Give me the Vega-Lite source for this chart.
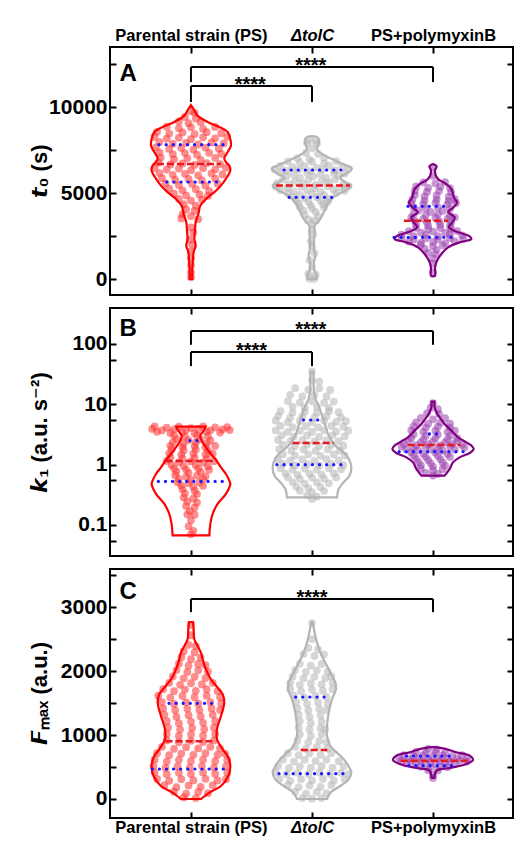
{
"$schema":"https://vega.github.io/schema/vega-lite/v6.json",
"padding":{"left":27,"top":26,"right":0,"bottom":0},
"spacing":9,
"config":{
 "view":{"stroke":"black","strokeWidth":2},
 "axis":{"domain":false,"grid":false,"tickColor":"black","tickWidth":2,"tickSize":-6,"labelFont":"Liberation Sans","labelFontWeight":"bold","labelFontSize":21,"labelColor":"black","labelPadding":9,"titleFont":"Liberation Sans","titleFontWeight":"bold","titleFontSize":22,"titleColor":"black"}
},
"datasets":{
"pA":[
{"g":1,"x":1.0,"y":9760},{"g":1,"x":1.03,"y":9660},{"g":1,"x":0.95,"y":9420},{"g":1,"x":1.04,"y":9330},
{"g":1,"x":0.9,"y":9160},{"g":1,"x":0.98,"y":9060},{"g":1,"x":1.08,"y":9120},
{"g":1,"x":0.8,"y":8860},{"g":1,"x":0.9,"y":8760},{"g":1,"x":1.0,"y":8820},{"g":1,"x":1.1,"y":8730},{"g":1,"x":1.2,"y":8840},
{"g":1,"x":0.72,"y":8560},{"g":1,"x":0.82,"y":8460},{"g":1,"x":0.93,"y":8520},{"g":1,"x":1.03,"y":8430},{"g":1,"x":1.13,"y":8540},{"g":1,"x":1.25,"y":8480},
{"g":1,"x":0.7,"y":8260},{"g":1,"x":0.8,"y":8160},{"g":1,"x":0.9,"y":8220},{"g":1,"x":1.0,"y":8130},{"g":1,"x":1.1,"y":8240},{"g":1,"x":1.2,"y":8180},{"g":1,"x":1.3,"y":8270},
{"g":1,"x":0.74,"y":7960},{"g":1,"x":0.85,"y":7860},{"g":1,"x":0.96,"y":7920},{"g":1,"x":1.06,"y":7830},{"g":1,"x":1.17,"y":7940},{"g":1,"x":1.27,"y":7880},
{"g":1,"x":0.71,"y":7660},{"g":1,"x":0.82,"y":7560},{"g":1,"x":0.92,"y":7620},{"g":1,"x":1.02,"y":7530},{"g":1,"x":1.12,"y":7640},{"g":1,"x":1.23,"y":7580},
{"g":1,"x":0.74,"y":7360},{"g":1,"x":0.85,"y":7260},{"g":1,"x":0.95,"y":7320},{"g":1,"x":1.05,"y":7230},{"g":1,"x":1.15,"y":7340},{"g":1,"x":1.25,"y":7280},
{"g":1,"x":0.75,"y":7060},{"g":1,"x":0.86,"y":6960},{"g":1,"x":0.97,"y":7020},{"g":1,"x":1.08,"y":6930},{"g":1,"x":1.2,"y":7040},
{"g":1,"x":0.73,"y":6760},{"g":1,"x":0.83,"y":6660},{"g":1,"x":0.93,"y":6720},{"g":1,"x":1.03,"y":6630},{"g":1,"x":1.13,"y":6740},{"g":1,"x":1.24,"y":6680},
{"g":1,"x":0.7,"y":6460},{"g":1,"x":0.8,"y":6360},{"g":1,"x":0.9,"y":6420},{"g":1,"x":1.0,"y":6330},{"g":1,"x":1.1,"y":6440},{"g":1,"x":1.2,"y":6380},{"g":1,"x":1.29,"y":6470},
{"g":1,"x":0.74,"y":6160},{"g":1,"x":0.85,"y":6060},{"g":1,"x":0.95,"y":6120},{"g":1,"x":1.06,"y":6030},{"g":1,"x":1.17,"y":6140},{"g":1,"x":1.26,"y":6080},
{"g":1,"x":0.76,"y":5860},{"g":1,"x":0.87,"y":5760},{"g":1,"x":0.98,"y":5820},{"g":1,"x":1.09,"y":5730},{"g":1,"x":1.2,"y":5840},
{"g":1,"x":0.79,"y":5560},{"g":1,"x":0.9,"y":5460},{"g":1,"x":1.01,"y":5520},{"g":1,"x":1.12,"y":5430},{"g":1,"x":1.22,"y":5540},
{"g":1,"x":0.82,"y":5260},{"g":1,"x":0.93,"y":5160},{"g":1,"x":1.04,"y":5220},{"g":1,"x":1.15,"y":5130},
{"g":1,"x":0.86,"y":4960},{"g":1,"x":0.96,"y":4860},{"g":1,"x":1.07,"y":4920},{"g":1,"x":1.14,"y":4830},
{"g":1,"x":0.9,"y":4660},{"g":1,"x":1.0,"y":4560},{"g":1,"x":1.09,"y":4620},
{"g":1,"x":0.94,"y":4360},{"g":1,"x":1.04,"y":4260},{"g":1,"x":0.96,"y":4060},{"g":1,"x":1.03,"y":3960},
{"g":1,"x":0.93,"y":3760},{"g":1,"x":1.0,"y":3660},{"g":1,"x":0.92,"y":3520},{"g":1,"x":1.06,"y":3480},
{"g":1,"x":1.0,"y":3000},{"g":1,"x":1.02,"y":2700},{"g":1,"x":0.99,"y":2300},{"g":1,"x":1.01,"y":2000},{"g":1,"x":1.0,"y":1600},{"g":1,"x":1.0,"y":1200},{"g":1,"x":1.0,"y":800},{"g":1,"x":1.0,"y":400},{"g":1,"x":1.0,"y":100},
{"g":2,"x":1.98,"y":8100},{"g":2,"x":2.03,"y":8060},{"g":2,"x":1.96,"y":7900},{"g":2,"x":2.04,"y":7860},{"g":2,"x":2.0,"y":7600},
{"g":2,"x":1.95,"y":7330},{"g":2,"x":2.05,"y":7270},{"g":2,"x":1.88,"y":7020},{"g":2,"x":1.98,"y":6960},{"g":2,"x":2.1,"y":7040},
{"g":2,"x":1.8,"y":6840},{"g":2,"x":1.9,"y":6760},{"g":2,"x":2.0,"y":6820},{"g":2,"x":2.1,"y":6730},{"g":2,"x":2.2,"y":6850},
{"g":2,"x":1.74,"y":6580},{"g":2,"x":1.84,"y":6500},{"g":2,"x":1.94,"y":6560},{"g":2,"x":2.04,"y":6480},{"g":2,"x":2.14,"y":6590},{"g":2,"x":2.25,"y":6530},
{"g":2,"x":1.69,"y":6380},{"g":2,"x":1.79,"y":6300},{"g":2,"x":1.89,"y":6360},{"g":2,"x":1.99,"y":6280},{"g":2,"x":2.09,"y":6390},{"g":2,"x":2.19,"y":6330},{"g":2,"x":2.3,"y":6400},
{"g":2,"x":1.74,"y":6180},{"g":2,"x":1.85,"y":6100},{"g":2,"x":1.96,"y":6160},{"g":2,"x":2.07,"y":6080},{"g":2,"x":2.18,"y":6190},{"g":2,"x":2.27,"y":6130},
{"g":2,"x":1.79,"y":5980},{"g":2,"x":1.9,"y":5900},{"g":2,"x":2.01,"y":5960},{"g":2,"x":2.12,"y":5880},{"g":2,"x":2.22,"y":5990},
{"g":2,"x":1.76,"y":5780},{"g":2,"x":1.86,"y":5700},{"g":2,"x":1.97,"y":5760},{"g":2,"x":2.08,"y":5680},{"g":2,"x":2.19,"y":5790},
{"g":2,"x":1.71,"y":5580},{"g":2,"x":1.81,"y":5500},{"g":2,"x":1.92,"y":5560},{"g":2,"x":2.03,"y":5480},{"g":2,"x":2.14,"y":5590},{"g":2,"x":2.26,"y":5530},
{"g":2,"x":1.7,"y":5380},{"g":2,"x":1.8,"y":5300},{"g":2,"x":1.91,"y":5360},{"g":2,"x":2.02,"y":5280},{"g":2,"x":2.13,"y":5390},{"g":2,"x":2.24,"y":5330},{"g":2,"x":2.3,"y":5400},
{"g":2,"x":1.74,"y":5180},{"g":2,"x":1.85,"y":5100},{"g":2,"x":1.96,"y":5160},{"g":2,"x":2.07,"y":5080},{"g":2,"x":2.18,"y":5190},{"g":2,"x":2.27,"y":5130},
{"g":2,"x":1.8,"y":4980},{"g":2,"x":1.9,"y":4900},{"g":2,"x":2.0,"y":4960},{"g":2,"x":2.1,"y":4880},{"g":2,"x":2.2,"y":4990},
{"g":2,"x":1.84,"y":4780},{"g":2,"x":1.94,"y":4700},{"g":2,"x":2.04,"y":4760},{"g":2,"x":2.14,"y":4680},
{"g":2,"x":1.87,"y":4580},{"g":2,"x":1.97,"y":4500},{"g":2,"x":2.07,"y":4560},{"g":2,"x":2.13,"y":4480},
{"g":2,"x":1.89,"y":4380},{"g":2,"x":1.99,"y":4300},{"g":2,"x":2.09,"y":4360},{"g":2,"x":1.9,"y":4180},{"g":2,"x":2.0,"y":4100},{"g":2,"x":2.1,"y":4160},
{"g":2,"x":1.93,"y":3980},{"g":2,"x":2.03,"y":3900},{"g":2,"x":1.94,"y":3720},{"g":2,"x":2.05,"y":3660},{"g":2,"x":1.97,"y":3470},{"g":2,"x":2.02,"y":3410},
{"g":2,"x":2.0,"y":3200},{"g":2,"x":2.0,"y":2900},{"g":2,"x":2.01,"y":2600},{"g":2,"x":1.99,"y":2200},{"g":2,"x":2.0,"y":1900},{"g":2,"x":2.02,"y":1500},{"g":2,"x":1.98,"y":1100},{"g":2,"x":2.0,"y":700},
{"g":2,"x":1.97,"y":300},{"g":2,"x":2.03,"y":260},{"g":2,"x":1.98,"y":20},{"g":2,"x":2.02,"y":10},
{"g":3,"x":3.0,"y":6500},{"g":3,"x":3.0,"y":6000},{"g":3,"x":2.92,"y":5620},{"g":3,"x":3.02,"y":5560},{"g":3,"x":3.1,"y":5640},
{"g":3,"x":2.86,"y":5380},{"g":3,"x":2.96,"y":5300},{"g":3,"x":3.06,"y":5360},{"g":3,"x":3.14,"y":5290},
{"g":3,"x":2.85,"y":5120},{"g":3,"x":2.95,"y":5060},{"g":3,"x":3.05,"y":5130},{"g":3,"x":3.15,"y":5050},
{"g":3,"x":2.85,"y":4880},{"g":3,"x":2.93,"y":4800},{"g":3,"x":3.03,"y":4860},{"g":3,"x":3.13,"y":4790},
{"g":3,"x":2.83,"y":4630},{"g":3,"x":2.93,"y":4560},{"g":3,"x":3.03,"y":4620},{"g":3,"x":3.13,"y":4550},{"g":3,"x":3.18,"y":4640},
{"g":3,"x":2.82,"y":4420},{"g":3,"x":2.92,"y":4360},{"g":3,"x":3.02,"y":4430},{"g":3,"x":3.12,"y":4350},{"g":3,"x":3.19,"y":4410},
{"g":3,"x":2.84,"y":4180},{"g":3,"x":2.94,"y":4100},{"g":3,"x":3.04,"y":4160},{"g":3,"x":3.14,"y":4090},
{"g":3,"x":2.88,"y":3980},{"g":3,"x":2.98,"y":3900},{"g":3,"x":3.08,"y":3960},
{"g":3,"x":2.84,"y":3780},{"g":3,"x":2.94,"y":3700},{"g":3,"x":3.04,"y":3760},{"g":3,"x":3.14,"y":3690},
{"g":3,"x":2.82,"y":3580},{"g":3,"x":2.92,"y":3500},{"g":3,"x":3.02,"y":3560},{"g":3,"x":3.12,"y":3490},{"g":3,"x":3.18,"y":3590},
{"g":3,"x":2.85,"y":3380},{"g":3,"x":2.95,"y":3300},{"g":3,"x":3.05,"y":3360},{"g":3,"x":3.15,"y":3290},
{"g":3,"x":2.86,"y":3180},{"g":3,"x":2.96,"y":3100},{"g":3,"x":3.06,"y":3160},{"g":3,"x":3.14,"y":3090},
{"g":3,"x":2.86,"y":2980},{"g":3,"x":2.96,"y":2900},{"g":3,"x":3.06,"y":2960},{"g":3,"x":3.15,"y":2890},
{"g":3,"x":2.8,"y":2780},{"g":3,"x":2.9,"y":2700},{"g":3,"x":3.0,"y":2760},{"g":3,"x":3.1,"y":2690},{"g":3,"x":3.2,"y":2790},
{"g":3,"x":2.74,"y":2580},{"g":3,"x":2.84,"y":2500},{"g":3,"x":2.94,"y":2560},{"g":3,"x":3.04,"y":2490},{"g":3,"x":3.14,"y":2590},{"g":3,"x":3.24,"y":2530},
{"g":3,"x":2.74,"y":2380},{"g":3,"x":2.84,"y":2300},{"g":3,"x":2.94,"y":2360},{"g":3,"x":3.04,"y":2290},{"g":3,"x":3.14,"y":2390},{"g":3,"x":3.25,"y":2330},
{"g":3,"x":2.8,"y":2180},{"g":3,"x":2.9,"y":2100},{"g":3,"x":3.0,"y":2160},{"g":3,"x":3.1,"y":2090},{"g":3,"x":3.18,"y":2190},
{"g":3,"x":2.9,"y":1980},{"g":3,"x":3.0,"y":1900},{"g":3,"x":3.08,"y":1960},{"g":3,"x":2.93,"y":1760},{"g":3,"x":3.03,"y":1700},
{"g":3,"x":2.96,"y":1520},{"g":3,"x":3.02,"y":1460},{"g":3,"x":3.0,"y":1200},{"g":3,"x":3.0,"y":900},{"g":3,"x":3.0,"y":400}
],
"vA":[
{"g":1,"y":10116,"lo":1.0,"hi":1.0},{"g":1,"y":9884,"lo":0.978,"hi":1.022},{"g":1,"y":9500,"lo":0.945,"hi":1.055},{"g":1,"y":9128,"lo":0.862,"hi":1.138},{"g":1,"y":8837,"lo":0.766,"hi":1.234},{"g":1,"y":8547,"lo":0.697,"hi":1.303},{"g":1,"y":8140,"lo":0.675,"hi":1.325},{"g":1,"y":7750,"lo":0.67,"hi":1.33},{"g":1,"y":7380,"lo":0.697,"hi":1.303},{"g":1,"y":7030,"lo":0.725,"hi":1.275},{"g":1,"y":6800,"lo":0.711,"hi":1.289},{"g":1,"y":6590,"lo":0.683,"hi":1.317},{"g":1,"y":6300,"lo":0.675,"hi":1.325},{"g":1,"y":5930,"lo":0.702,"hi":1.298},{"g":1,"y":5430,"lo":0.752,"hi":1.248},{"g":1,"y":5050,"lo":0.807,"hi":1.193},{"g":1,"y":4650,"lo":0.876,"hi":1.124},{"g":1,"y":4260,"lo":0.923,"hi":1.077},{"g":1,"y":3780,"lo":0.939,"hi":1.061},{"g":1,"y":3310,"lo":0.961,"hi":1.039},{"g":1,"y":2810,"lo":0.967,"hi":1.033},{"g":1,"y":2326,"lo":0.972,"hi":1.028},{"g":1,"y":1940,"lo":0.961,"hi":1.039},{"g":1,"y":1570,"lo":0.978,"hi":1.022},{"g":1,"y":1160,"lo":0.983,"hi":1.017},{"g":1,"y":580,"lo":0.989,"hi":1.011},{"g":1,"y":0,"lo":0.989,"hi":1.011},
{"g":2,"y":8314,"lo":2.0,"hi":2.0},{"g":2,"y":8290,"lo":1.97,"hi":2.03},{"g":2,"y":8200,"lo":1.95,"hi":2.05},{"g":2,"y":8040,"lo":1.939,"hi":2.061},{"g":2,"y":7800,"lo":1.95,"hi":2.05},{"g":2,"y":7560,"lo":1.959,"hi":2.041},{"g":2,"y":7270,"lo":1.917,"hi":2.083},{"g":2,"y":6880,"lo":1.807,"hi":2.193},{"g":2,"y":6590,"lo":1.711,"hi":2.289},{"g":2,"y":6440,"lo":1.67,"hi":2.33},{"g":2,"y":6200,"lo":1.697,"hi":2.303},{"g":2,"y":5910,"lo":1.766,"hi":2.234},{"g":2,"y":5620,"lo":1.725,"hi":2.275},{"g":2,"y":5430,"lo":1.675,"hi":2.325},{"g":2,"y":5190,"lo":1.711,"hi":2.289},{"g":2,"y":4840,"lo":1.807,"hi":2.193},{"g":2,"y":4460,"lo":1.862,"hi":2.138},{"g":2,"y":4070,"lo":1.89,"hi":2.11},{"g":2,"y":3680,"lo":1.917,"hi":2.083},{"g":2,"y":3300,"lo":1.95,"hi":2.05},{"g":2,"y":3100,"lo":1.978,"hi":2.022},{"g":2,"y":2730,"lo":1.978,"hi":2.022},{"g":2,"y":2300,"lo":1.983,"hi":2.017},{"g":2,"y":1744,"lo":1.983,"hi":2.017},{"g":2,"y":1360,"lo":1.972,"hi":2.028},{"g":2,"y":990,"lo":1.983,"hi":2.017},{"g":2,"y":580,"lo":1.983,"hi":2.017},{"g":2,"y":190,"lo":1.961,"hi":2.039},{"g":2,"y":0,"lo":1.961,"hi":2.039},
{"g":3,"y":6686,"lo":3.0,"hi":3.0},{"g":3,"y":6550,"lo":2.97,"hi":3.03},{"g":3,"y":6300,"lo":2.985,"hi":3.015},{"g":3,"y":5814,"lo":2.959,"hi":3.041},{"g":3,"y":5523,"lo":2.89,"hi":3.11},{"g":3,"y":5233,"lo":2.848,"hi":3.152},{"g":3,"y":4942,"lo":2.835,"hi":3.165},{"g":3,"y":4650,"lo":2.821,"hi":3.179},{"g":3,"y":4460,"lo":2.8,"hi":3.2},{"g":3,"y":4170,"lo":2.83,"hi":3.17},{"g":3,"y":3880,"lo":2.875,"hi":3.125},{"g":3,"y":3590,"lo":2.82,"hi":3.18},{"g":3,"y":3300,"lo":2.84,"hi":3.16},{"g":3,"y":3010,"lo":2.87,"hi":3.13},{"g":3,"y":2713,"lo":2.79,"hi":3.21},{"g":3,"y":2480,"lo":2.697,"hi":3.303},{"g":3,"y":2326,"lo":2.683,"hi":3.317},{"g":3,"y":2130,"lo":2.78,"hi":3.22},{"g":3,"y":1840,"lo":2.876,"hi":3.124},{"g":3,"y":1453,"lo":2.931,"hi":3.069},{"g":3,"y":1065,"lo":2.967,"hi":3.033},{"g":3,"y":680,"lo":2.983,"hi":3.017},{"g":3,"y":190,"lo":2.983,"hi":3.017},{"g":3,"y":150,"lo":3.0,"hi":3.0}
],
"qA":[
{"g":1,"y":7810,"lo":0.736,"hi":1.287,"k":"q"},{"g":1,"y":6690,"lo":0.719,"hi":1.248,"k":"m"},{"g":1,"y":5640,"lo":0.8,"hi":1.215,"k":"q"},
{"g":2,"y":6337,"lo":1.769,"hi":2.281,"k":"q"},{"g":2,"y":5430,"lo":1.702,"hi":2.314,"k":"m"},{"g":2,"y":4750,"lo":1.81,"hi":2.165,"k":"q"},
{"g":3,"y":4225,"lo":2.793,"hi":3.107,"k":"q"},{"g":3,"y":3390,"lo":2.76,"hi":3.124,"k":"m"},{"g":3,"y":2425,"lo":2.678,"hi":3.174,"k":"q"}
],
"bA":[
{"x":1,"x2":2,"y":11220,"y2":11220},{"x":1,"x2":1,"y":11220,"y2":10290},{"x":2,"x2":2,"y":11220,"y2":10290},
{"x":1,"x2":3,"y":12325,"y2":12325},{"x":1,"x2":1,"y":12325,"y2":11450},{"x":3,"x2":3,"y":12325,"y2":11450}
],
"sA":[{"x":1.49,"y":11220,"t":"****"},{"x":1.99,"y":12325,"t":"****"}],
"pB":[
{"g":1,"x":0.7,"y":4.3},{"g":1,"x":0.8,"y":4.1},{"g":1,"x":0.9,"y":4.25},{"g":1,"x":1.0,"y":4.05},{"g":1,"x":1.1,"y":4.3},{"g":1,"x":1.2,"y":4.15},{"g":1,"x":1.3,"y":4.2},
{"g":1,"x":0.68,"y":3.9},{"g":1,"x":0.76,"y":3.7},{"g":1,"x":0.86,"y":3.85},{"g":1,"x":0.96,"y":3.75},{"g":1,"x":1.06,"y":3.9},{"g":1,"x":1.16,"y":3.7},{"g":1,"x":1.26,"y":3.85},{"g":1,"x":1.32,"y":3.75},
{"g":1,"x":0.72,"y":3.5},{"g":1,"x":0.83,"y":3.35},{"g":1,"x":0.93,"y":3.45},{"g":1,"x":1.03,"y":3.3},{"g":1,"x":1.13,"y":3.5},{"g":1,"x":1.24,"y":3.4},
{"g":1,"x":0.86,"y":3.05},{"g":1,"x":0.95,"y":2.92},{"g":1,"x":1.05,"y":3.02},{"g":1,"x":1.14,"y":2.95},
{"g":1,"x":0.88,"y":2.65},{"g":1,"x":0.98,"y":2.55},{"g":1,"x":1.08,"y":2.62},{"g":1,"x":1.16,"y":2.52},
{"g":1,"x":0.85,"y":2.35},{"g":1,"x":0.94,"y":2.25},{"g":1,"x":1.04,"y":2.32},{"g":1,"x":1.13,"y":2.24},
{"g":1,"x":0.83,"y":2.05},{"g":1,"x":0.93,"y":1.96},{"g":1,"x":1.03,"y":2.02},{"g":1,"x":1.12,"y":1.95},{"g":1,"x":1.2,"y":2.04},
{"g":1,"x":0.84,"y":1.8},{"g":1,"x":0.94,"y":1.72},{"g":1,"x":1.04,"y":1.77},{"g":1,"x":1.14,"y":1.7},
{"g":1,"x":0.82,"y":1.54},{"g":1,"x":0.92,"y":1.47},{"g":1,"x":1.02,"y":1.52},{"g":1,"x":1.12,"y":1.46},{"g":1,"x":1.18,"y":1.53},
{"g":1,"x":0.83,"y":1.33},{"g":1,"x":0.93,"y":1.27},{"g":1,"x":1.03,"y":1.31},{"g":1,"x":1.13,"y":1.26},
{"g":1,"x":0.8,"y":1.15},{"g":1,"x":0.9,"y":1.09},{"g":1,"x":1.0,"y":1.13},{"g":1,"x":1.1,"y":1.08},{"g":1,"x":1.19,"y":1.14},
{"g":1,"x":0.84,"y":0.99},{"g":1,"x":0.94,"y":0.95},{"g":1,"x":1.04,"y":0.98},{"g":1,"x":1.14,"y":0.94},
{"g":1,"x":0.86,"y":0.87},{"g":1,"x":0.96,"y":0.83},{"g":1,"x":1.06,"y":0.86},{"g":1,"x":1.15,"y":0.82},
{"g":1,"x":0.88,"y":0.77},{"g":1,"x":0.98,"y":0.73},{"g":1,"x":1.08,"y":0.76},
{"g":1,"x":0.87,"y":0.67},{"g":1,"x":0.96,"y":0.63},{"g":1,"x":1.05,"y":0.66},{"g":1,"x":1.12,"y":0.64},
{"g":1,"x":0.9,"y":0.58},{"g":1,"x":1.0,"y":0.56},{"g":1,"x":1.1,"y":0.575},
{"g":1,"x":0.89,"y":0.51},{"g":1,"x":0.98,"y":0.49},{"g":1,"x":1.07,"y":0.505},
{"g":1,"x":0.92,"y":0.45},{"g":1,"x":1.02,"y":0.43},{"g":1,"x":1.1,"y":0.445},
{"g":1,"x":0.93,"y":0.39},{"g":1,"x":1.03,"y":0.37},{"g":1,"x":0.95,"y":0.335},{"g":1,"x":1.05,"y":0.325},
{"g":1,"x":0.94,"y":0.285},{"g":1,"x":1.02,"y":0.275},{"g":1,"x":0.97,"y":0.245},{"g":1,"x":1.05,"y":0.235},
{"g":1,"x":0.96,"y":0.205},{"g":1,"x":1.03,"y":0.195},{"g":1,"x":0.99,"y":0.17},{"g":1,"x":0.97,"y":0.15},{"g":1,"x":1.03,"y":0.148},{"g":1,"x":1.0,"y":0.12},{"g":1,"x":0.98,"y":0.095},{"g":1,"x":1.02,"y":0.08},{"g":1,"x":1.0,"y":0.07},
{"g":2,"x":2.0,"y":35},{"g":2,"x":2.0,"y":25},{"g":2,"x":2.06,"y":24},
{"g":2,"x":1.86,"y":18.5},{"g":2,"x":1.97,"y":17.5},{"g":2,"x":2.06,"y":18.3},{"g":2,"x":2.15,"y":17.3},
{"g":2,"x":1.82,"y":14.4},{"g":2,"x":1.92,"y":13.6},{"g":2,"x":2.02,"y":14.2},{"g":2,"x":2.12,"y":13.5},
{"g":2,"x":1.8,"y":11.3},{"g":2,"x":1.9,"y":10.7},{"g":2,"x":2.0,"y":11.2},{"g":2,"x":2.1,"y":10.6},{"g":2,"x":2.18,"y":11.1},
{"g":2,"x":1.84,"y":9.2},{"g":2,"x":1.94,"y":8.8},{"g":2,"x":2.04,"y":9.1},{"g":2,"x":2.14,"y":8.7},
{"g":2,"x":1.74,"y":7.7},{"g":2,"x":1.84,"y":7.3},{"g":2,"x":1.94,"y":7.6},{"g":2,"x":2.04,"y":7.25},{"g":2,"x":2.14,"y":7.7},{"g":2,"x":2.22,"y":7.4},
{"g":2,"x":1.72,"y":6.4},{"g":2,"x":1.82,"y":6.0},{"g":2,"x":1.92,"y":6.3},{"g":2,"x":2.02,"y":6.0},{"g":2,"x":2.12,"y":6.35},{"g":2,"x":2.24,"y":6.1},
{"g":2,"x":1.7,"y":5.35},{"g":2,"x":1.8,"y":5.05},{"g":2,"x":1.9,"y":5.3},{"g":2,"x":2.0,"y":5.0},{"g":2,"x":2.1,"y":5.35},{"g":2,"x":2.2,"y":5.1},{"g":2,"x":2.28,"y":5.25},
{"g":2,"x":1.74,"y":4.4},{"g":2,"x":1.84,"y":4.2},{"g":2,"x":1.95,"y":4.35},{"g":2,"x":2.05,"y":4.15},{"g":2,"x":2.16,"y":4.4},{"g":2,"x":2.26,"y":4.25},
{"g":2,"x":1.7,"y":3.7},{"g":2,"x":1.8,"y":3.5},{"g":2,"x":1.9,"y":3.65},{"g":2,"x":2.0,"y":3.48},{"g":2,"x":2.1,"y":3.7},{"g":2,"x":2.2,"y":3.55},{"g":2,"x":2.3,"y":3.65},
{"g":2,"x":1.75,"y":3.08},{"g":2,"x":1.85,"y":2.92},{"g":2,"x":1.96,"y":3.05},{"g":2,"x":2.06,"y":2.9},{"g":2,"x":2.17,"y":3.07},{"g":2,"x":2.27,"y":2.95},
{"g":2,"x":1.72,"y":2.57},{"g":2,"x":1.82,"y":2.43},{"g":2,"x":1.92,"y":2.55},{"g":2,"x":2.02,"y":2.42},{"g":2,"x":2.12,"y":2.56},{"g":2,"x":2.22,"y":2.46},
{"g":2,"x":1.76,"y":2.15},{"g":2,"x":1.86,"y":2.04},{"g":2,"x":1.96,"y":2.13},{"g":2,"x":2.06,"y":2.03},{"g":2,"x":2.16,"y":2.14},{"g":2,"x":2.26,"y":2.06},
{"g":2,"x":1.73,"y":1.8},{"g":2,"x":1.83,"y":1.7},{"g":2,"x":1.93,"y":1.78},{"g":2,"x":2.03,"y":1.69},{"g":2,"x":2.13,"y":1.79},{"g":2,"x":2.23,"y":1.72},
{"g":2,"x":1.76,"y":1.49},{"g":2,"x":1.86,"y":1.41},{"g":2,"x":1.97,"y":1.48},{"g":2,"x":2.07,"y":1.4},{"g":2,"x":2.18,"y":1.48},{"g":2,"x":2.27,"y":1.42},
{"g":2,"x":1.72,"y":1.23},{"g":2,"x":1.82,"y":1.17},{"g":2,"x":1.92,"y":1.22},{"g":2,"x":2.02,"y":1.16},{"g":2,"x":2.12,"y":1.23},{"g":2,"x":2.22,"y":1.18},
{"g":2,"x":1.76,"y":1.03},{"g":2,"x":1.86,"y":0.97},{"g":2,"x":1.96,"y":1.02},{"g":2,"x":2.06,"y":0.97},{"g":2,"x":2.16,"y":1.03},{"g":2,"x":2.26,"y":0.98},
{"g":2,"x":1.74,"y":0.87},{"g":2,"x":1.84,"y":0.83},{"g":2,"x":1.94,"y":0.86},{"g":2,"x":2.04,"y":0.82},{"g":2,"x":2.14,"y":0.87},{"g":2,"x":2.24,"y":0.84},
{"g":2,"x":1.78,"y":0.72},{"g":2,"x":1.88,"y":0.68},{"g":2,"x":1.98,"y":0.71},{"g":2,"x":2.08,"y":0.68},{"g":2,"x":2.18,"y":0.72},
{"g":2,"x":1.8,"y":0.62},{"g":2,"x":1.9,"y":0.58},{"g":2,"x":2.0,"y":0.61},{"g":2,"x":2.1,"y":0.585},{"g":2,"x":2.2,"y":0.615},
{"g":2,"x":1.84,"y":0.515},{"g":2,"x":1.94,"y":0.485},{"g":2,"x":2.04,"y":0.51},{"g":2,"x":2.14,"y":0.49},
{"g":2,"x":1.87,"y":0.43},{"g":2,"x":1.97,"y":0.41},{"g":2,"x":2.07,"y":0.425},
{"g":2,"x":1.9,"y":0.37},{"g":2,"x":2.0,"y":0.35},{"g":2,"x":2.1,"y":0.365},
{"g":2,"x":1.96,"y":0.31},{"g":2,"x":2.04,"y":0.295},{"g":2,"x":2.0,"y":0.27},
{"g":3,"x":3.0,"y":10.5},{"g":3,"x":2.98,"y":8.7},{"g":3,"x":3.04,"y":8.3},{"g":3,"x":2.95,"y":7.1},{"g":3,"x":3.05,"y":6.9},
{"g":3,"x":2.9,"y":5.95},{"g":3,"x":3.0,"y":5.65},{"g":3,"x":3.1,"y":5.9},
{"g":3,"x":2.86,"y":5.0},{"g":3,"x":2.96,"y":4.75},{"g":3,"x":3.06,"y":4.95},{"g":3,"x":3.14,"y":4.8},
{"g":3,"x":2.84,"y":4.3},{"g":3,"x":2.94,"y":4.1},{"g":3,"x":3.04,"y":4.25},{"g":3,"x":3.14,"y":4.08},
{"g":3,"x":2.82,"y":3.7},{"g":3,"x":2.92,"y":3.5},{"g":3,"x":3.02,"y":3.65},{"g":3,"x":3.12,"y":3.48},{"g":3,"x":3.18,"y":3.66},
{"g":3,"x":2.84,"y":3.18},{"g":3,"x":2.94,"y":3.02},{"g":3,"x":3.04,"y":3.15},{"g":3,"x":3.14,"y":3.0},
{"g":3,"x":2.82,"y":2.77},{"g":3,"x":2.92,"y":2.63},{"g":3,"x":3.02,"y":2.75},{"g":3,"x":3.12,"y":2.62},{"g":3,"x":3.2,"y":2.74},
{"g":3,"x":2.8,"y":2.46},{"g":3,"x":2.9,"y":2.34},{"g":3,"x":3.0,"y":2.44},{"g":3,"x":3.1,"y":2.33},{"g":3,"x":3.2,"y":2.45},
{"g":3,"x":2.76,"y":2.2},{"g":3,"x":2.86,"y":2.1},{"g":3,"x":2.96,"y":2.18},{"g":3,"x":3.06,"y":2.09},{"g":3,"x":3.16,"y":2.19},{"g":3,"x":3.24,"y":2.12},
{"g":3,"x":2.74,"y":2.0},{"g":3,"x":2.84,"y":1.9},{"g":3,"x":2.94,"y":1.98},{"g":3,"x":3.04,"y":1.89},{"g":3,"x":3.14,"y":1.99},{"g":3,"x":3.26,"y":1.92},
{"g":3,"x":2.78,"y":1.79},{"g":3,"x":2.88,"y":1.71},{"g":3,"x":2.98,"y":1.78},{"g":3,"x":3.08,"y":1.7},{"g":3,"x":3.18,"y":1.78},
{"g":3,"x":2.82,"y":1.59},{"g":3,"x":2.92,"y":1.51},{"g":3,"x":3.02,"y":1.58},{"g":3,"x":3.12,"y":1.5},
{"g":3,"x":2.84,"y":1.41},{"g":3,"x":2.94,"y":1.35},{"g":3,"x":3.04,"y":1.4},{"g":3,"x":3.14,"y":1.34},
{"g":3,"x":2.86,"y":1.25},{"g":3,"x":2.96,"y":1.19},{"g":3,"x":3.06,"y":1.24},
{"g":3,"x":2.88,"y":1.1},{"g":3,"x":2.98,"y":1.05},{"g":3,"x":3.08,"y":1.09},
{"g":3,"x":2.9,"y":0.97},{"g":3,"x":3.0,"y":0.93},{"g":3,"x":3.1,"y":0.96},
{"g":3,"x":2.9,"y":0.85},{"g":3,"x":3.0,"y":0.81},{"g":3,"x":3.08,"y":0.84},
{"g":3,"x":2.94,"y":0.73},{"g":3,"x":3.04,"y":0.7},{"g":3,"x":3.0,"y":0.66}
],
"vB":[
{"g":1,"y":4.27,"lo":0.879,"hi":1.121},{"g":1,"y":3.66,"lo":0.895,"hi":1.105},{"g":1,"y":3.03,"lo":0.923,"hi":1.077},{"g":1,"y":2.5,"lo":0.912,"hi":1.088},{"g":1,"y":1.94,"lo":0.876,"hi":1.124},{"g":1,"y":1.5,"lo":0.835,"hi":1.165},{"g":1,"y":1.2,"lo":0.793,"hi":1.207},{"g":1,"y":0.9,"lo":0.752,"hi":1.248},{"g":1,"y":0.7,"lo":0.711,"hi":1.289},{"g":1,"y":0.543,"lo":0.683,"hi":1.317},{"g":1,"y":0.479,"lo":0.675,"hi":1.325},{"g":1,"y":0.327,"lo":0.711,"hi":1.289},{"g":1,"y":0.223,"lo":0.78,"hi":1.22},{"g":1,"y":0.152,"lo":0.821,"hi":1.179},{"g":1,"y":0.104,"lo":0.84,"hi":1.16},{"g":1,"y":0.067,"lo":0.848,"hi":1.152},
{"g":2,"y":34.8,"lo":1.989,"hi":2.011},{"g":2,"y":26.4,"lo":1.986,"hi":2.014},{"g":2,"y":18,"lo":1.986,"hi":2.014},{"g":2,"y":12.3,"lo":1.972,"hi":2.028},{"g":2,"y":9.5,"lo":1.945,"hi":2.055},{"g":2,"y":6.5,"lo":1.917,"hi":2.083},{"g":2,"y":4.43,"lo":1.89,"hi":2.11},{"g":2,"y":3.03,"lo":1.862,"hi":2.138},{"g":2,"y":2.07,"lo":1.807,"hi":2.193},{"g":2,"y":1.5,"lo":1.725,"hi":2.275},{"g":2,"y":1.09,"lo":1.683,"hi":2.317},{"g":2,"y":0.85,"lo":1.675,"hi":2.325},{"g":2,"y":0.657,"lo":1.691,"hi":2.309},{"g":2,"y":0.51,"lo":1.738,"hi":2.262},{"g":2,"y":0.395,"lo":1.78,"hi":2.22},{"g":2,"y":0.287,"lo":1.793,"hi":2.207},
{"g":3,"y":11.1,"lo":2.989,"hi":3.011},{"g":3,"y":8.9,"lo":2.986,"hi":3.014},{"g":3,"y":7.4,"lo":2.972,"hi":3.028},{"g":3,"y":6.1,"lo":2.945,"hi":3.055},{"g":3,"y":4.73,"lo":2.904,"hi":3.096},{"g":3,"y":3.66,"lo":2.848,"hi":3.152},{"g":3,"y":2.84,"lo":2.793,"hi":3.207},{"g":3,"y":2.34,"lo":2.725,"hi":3.275},{"g":3,"y":2.07,"lo":2.683,"hi":3.317},{"g":3,"y":1.82,"lo":2.664,"hi":3.336},{"g":3,"y":1.56,"lo":2.697,"hi":3.303},{"g":3,"y":1.32,"lo":2.78,"hi":3.22},{"g":3,"y":1.09,"lo":2.835,"hi":3.165},{"g":3,"y":0.85,"lo":2.862,"hi":3.138},{"g":3,"y":0.657,"lo":2.904,"hi":3.096}
],
"qB":[
{"g":1,"y":2.5,"lo":0.99,"hi":1.05,"k":"q"},{"g":1,"y":1.15,"lo":0.79,"hi":1.2,"k":"m"},{"g":1,"y":0.528,"lo":0.73,"hi":1.3,"k":"q"},
{"g":2,"y":5.5,"lo":1.93,"hi":2.07,"k":"q"},{"g":2,"y":2.29,"lo":1.84,"hi":2.18,"k":"m"},{"g":2,"y":1.0,"lo":1.71,"hi":2.29,"k":"q"},
{"g":3,"y":3.23,"lo":2.97,"hi":3.05,"k":"q"},{"g":3,"y":2.12,"lo":2.79,"hi":3.23,"k":"m"},{"g":3,"y":1.64,"lo":2.72,"hi":3.26,"k":"q"}
],
"bB":[
{"x":1,"x2":3,"y":164,"y2":164},{"x":1,"x2":1,"y":164,"y2":97},{"x":3,"x2":3,"y":164,"y2":97},
{"x":1,"x2":2,"y":73.6,"y2":73.6},{"x":1,"x2":1,"y":73.6,"y2":43},{"x":2,"x2":2,"y":73.6,"y2":43}
],
"sB":[{"x":1.99,"y":164,"t":"****"},{"x":1.5,"y":73.6,"t":"****"}],
"pC":[
{"g":1,"x":1.0,"y":2720},{"g":1,"x":1.0,"y":2560},{"g":1,"x":0.98,"y":2410},{"g":1,"x":1.04,"y":2390},{"g":1,"x":0.94,"y":2310},{"g":1,"x":1.03,"y":2290},
{"g":1,"x":0.92,"y":2215},{"g":1,"x":1.0,"y":2185},{"g":1,"x":1.08,"y":2210},
{"g":1,"x":0.9,"y":2115},{"g":1,"x":0.98,"y":2085},{"g":1,"x":1.06,"y":2110},{"g":1,"x":1.12,"y":2090},
{"g":1,"x":0.88,"y":2015},{"g":1,"x":0.97,"y":1985},{"g":1,"x":1.06,"y":2010},{"g":1,"x":1.14,"y":1990},
{"g":1,"x":0.85,"y":1915},{"g":1,"x":0.94,"y":1885},{"g":1,"x":1.03,"y":1910},{"g":1,"x":1.12,"y":1890},
{"g":1,"x":0.82,"y":1815},{"g":1,"x":0.91,"y":1785},{"g":1,"x":1.0,"y":1810},{"g":1,"x":1.09,"y":1790},{"g":1,"x":1.18,"y":1815},
{"g":1,"x":0.77,"y":1715},{"g":1,"x":0.86,"y":1685},{"g":1,"x":0.95,"y":1710},{"g":1,"x":1.04,"y":1690},{"g":1,"x":1.13,"y":1715},{"g":1,"x":1.22,"y":1685},
{"g":1,"x":0.73,"y":1615},{"g":1,"x":0.83,"y":1585},{"g":1,"x":0.93,"y":1610},{"g":1,"x":1.03,"y":1590},{"g":1,"x":1.13,"y":1615},{"g":1,"x":1.24,"y":1590},
{"g":1,"x":0.76,"y":1515},{"g":1,"x":0.86,"y":1485},{"g":1,"x":0.96,"y":1510},{"g":1,"x":1.06,"y":1490},{"g":1,"x":1.16,"y":1515},{"g":1,"x":1.25,"y":1490},
{"g":1,"x":0.77,"y":1415},{"g":1,"x":0.87,"y":1385},{"g":1,"x":0.97,"y":1410},{"g":1,"x":1.07,"y":1390},{"g":1,"x":1.17,"y":1415},{"g":1,"x":1.24,"y":1390},
{"g":1,"x":0.78,"y":1315},{"g":1,"x":0.88,"y":1285},{"g":1,"x":0.98,"y":1310},{"g":1,"x":1.08,"y":1290},{"g":1,"x":1.18,"y":1315},
{"g":1,"x":0.8,"y":1215},{"g":1,"x":0.9,"y":1185},{"g":1,"x":1.0,"y":1210},{"g":1,"x":1.1,"y":1190},{"g":1,"x":1.2,"y":1215},
{"g":1,"x":0.81,"y":1115},{"g":1,"x":0.91,"y":1085},{"g":1,"x":1.01,"y":1110},{"g":1,"x":1.11,"y":1090},{"g":1,"x":1.19,"y":1115},
{"g":1,"x":0.8,"y":1015},{"g":1,"x":0.9,"y":985},{"g":1,"x":1.0,"y":1010},{"g":1,"x":1.1,"y":990},{"g":1,"x":1.2,"y":1015},
{"g":1,"x":0.8,"y":915},{"g":1,"x":0.9,"y":885},{"g":1,"x":1.0,"y":910},{"g":1,"x":1.1,"y":890},{"g":1,"x":1.19,"y":915},
{"g":1,"x":0.76,"y":815},{"g":1,"x":0.86,"y":785},{"g":1,"x":0.96,"y":810},{"g":1,"x":1.06,"y":790},{"g":1,"x":1.16,"y":815},{"g":1,"x":1.24,"y":790},
{"g":1,"x":0.72,"y":715},{"g":1,"x":0.82,"y":685},{"g":1,"x":0.92,"y":710},{"g":1,"x":1.02,"y":690},{"g":1,"x":1.12,"y":715},{"g":1,"x":1.22,"y":690},{"g":1,"x":1.28,"y":710},
{"g":1,"x":0.7,"y":615},{"g":1,"x":0.8,"y":585},{"g":1,"x":0.9,"y":610},{"g":1,"x":1.0,"y":590},{"g":1,"x":1.1,"y":615},{"g":1,"x":1.2,"y":590},{"g":1,"x":1.3,"y":610},
{"g":1,"x":0.69,"y":515},{"g":1,"x":0.79,"y":485},{"g":1,"x":0.89,"y":510},{"g":1,"x":0.99,"y":490},{"g":1,"x":1.09,"y":515},{"g":1,"x":1.19,"y":490},{"g":1,"x":1.29,"y":510},
{"g":1,"x":0.7,"y":415},{"g":1,"x":0.8,"y":385},{"g":1,"x":0.9,"y":410},{"g":1,"x":1.0,"y":390},{"g":1,"x":1.1,"y":415},{"g":1,"x":1.2,"y":390},{"g":1,"x":1.3,"y":410},
{"g":1,"x":0.72,"y":315},{"g":1,"x":0.82,"y":285},{"g":1,"x":0.92,"y":310},{"g":1,"x":1.02,"y":290},{"g":1,"x":1.12,"y":315},{"g":1,"x":1.22,"y":290},{"g":1,"x":1.29,"y":310},
{"g":1,"x":0.78,"y":215},{"g":1,"x":0.88,"y":185},{"g":1,"x":0.98,"y":210},{"g":1,"x":1.08,"y":190},{"g":1,"x":1.18,"y":215},
{"g":1,"x":0.86,"y":115},{"g":1,"x":0.96,"y":85},{"g":1,"x":1.06,"y":110},{"g":1,"x":1.14,"y":90},{"g":1,"x":0.94,"y":25},{"g":1,"x":1.04,"y":15},
{"g":2,"x":2.0,"y":2750},{"g":2,"x":2.0,"y":2500},{"g":2,"x":1.97,"y":2360},{"g":2,"x":2.05,"y":2340},
{"g":2,"x":1.93,"y":2265},{"g":2,"x":2.02,"y":2235},{"g":2,"x":2.1,"y":2260},
{"g":2,"x":1.9,"y":2115},{"g":2,"x":1.99,"y":2085},{"g":2,"x":2.08,"y":2110},
{"g":2,"x":1.86,"y":2015},{"g":2,"x":1.95,"y":1985},{"g":2,"x":2.04,"y":2010},{"g":2,"x":2.13,"y":1990},
{"g":2,"x":1.84,"y":1915},{"g":2,"x":1.93,"y":1885},{"g":2,"x":2.02,"y":1910},{"g":2,"x":2.11,"y":1890},{"g":2,"x":2.16,"y":1915},
{"g":2,"x":1.82,"y":1815},{"g":2,"x":1.9,"y":1785},{"g":2,"x":1.99,"y":1810},{"g":2,"x":2.08,"y":1790},{"g":2,"x":2.17,"y":1815},
{"g":2,"x":1.82,"y":1715},{"g":2,"x":1.91,"y":1685},{"g":2,"x":2.0,"y":1710},{"g":2,"x":2.09,"y":1690},{"g":2,"x":2.17,"y":1715},
{"g":2,"x":1.85,"y":1615},{"g":2,"x":1.94,"y":1585},{"g":2,"x":2.03,"y":1610},{"g":2,"x":2.12,"y":1590},
{"g":2,"x":1.87,"y":1515},{"g":2,"x":1.96,"y":1485},{"g":2,"x":2.05,"y":1510},{"g":2,"x":2.13,"y":1490},
{"g":2,"x":1.88,"y":1415},{"g":2,"x":1.97,"y":1385},{"g":2,"x":2.06,"y":1410},{"g":2,"x":2.12,"y":1390},
{"g":2,"x":1.89,"y":1315},{"g":2,"x":1.98,"y":1285},{"g":2,"x":2.07,"y":1310},
{"g":2,"x":1.9,"y":1215},{"g":2,"x":1.99,"y":1185},{"g":2,"x":2.08,"y":1210},
{"g":2,"x":1.89,"y":1115},{"g":2,"x":1.98,"y":1085},{"g":2,"x":2.07,"y":1110},{"g":2,"x":2.11,"y":1090},
{"g":2,"x":1.9,"y":1015},{"g":2,"x":1.99,"y":985},{"g":2,"x":2.08,"y":1010},
{"g":2,"x":1.88,"y":915},{"g":2,"x":1.97,"y":885},{"g":2,"x":2.06,"y":910},{"g":2,"x":2.12,"y":890},
{"g":2,"x":1.86,"y":815},{"g":2,"x":1.95,"y":785},{"g":2,"x":2.04,"y":810},{"g":2,"x":2.13,"y":790},
{"g":2,"x":1.8,"y":715},{"g":2,"x":1.89,"y":685},{"g":2,"x":1.98,"y":710},{"g":2,"x":2.07,"y":690},{"g":2,"x":2.16,"y":715},
{"g":2,"x":1.76,"y":615},{"g":2,"x":1.85,"y":585},{"g":2,"x":1.94,"y":610},{"g":2,"x":2.03,"y":590},{"g":2,"x":2.12,"y":615},{"g":2,"x":2.22,"y":590},
{"g":2,"x":1.72,"y":515},{"g":2,"x":1.81,"y":485},{"g":2,"x":1.9,"y":510},{"g":2,"x":1.99,"y":490},{"g":2,"x":2.08,"y":515},{"g":2,"x":2.17,"y":490},{"g":2,"x":2.26,"y":510},
{"g":2,"x":1.7,"y":415},{"g":2,"x":1.79,"y":385},{"g":2,"x":1.88,"y":410},{"g":2,"x":1.97,"y":390},{"g":2,"x":2.06,"y":415},{"g":2,"x":2.15,"y":390},{"g":2,"x":2.24,"y":410},{"g":2,"x":2.3,"y":390},
{"g":2,"x":1.73,"y":315},{"g":2,"x":1.82,"y":285},{"g":2,"x":1.91,"y":310},{"g":2,"x":2.0,"y":290},{"g":2,"x":2.09,"y":315},{"g":2,"x":2.18,"y":290},{"g":2,"x":2.27,"y":310},
{"g":2,"x":1.8,"y":215},{"g":2,"x":1.89,"y":185},{"g":2,"x":1.98,"y":210},{"g":2,"x":2.07,"y":190},{"g":2,"x":2.16,"y":215},
{"g":2,"x":1.86,"y":115},{"g":2,"x":1.95,"y":85},{"g":2,"x":2.04,"y":110},{"g":2,"x":2.12,"y":90},
{"g":2,"x":1.92,"y":15},{"g":2,"x":2.0,"y":5},{"g":2,"x":2.08,"y":15},
{"g":3,"x":2.96,"y":785},{"g":3,"x":3.03,"y":775},
{"g":3,"x":2.86,"y":735},{"g":3,"x":2.94,"y":725},{"g":3,"x":3.02,"y":735},{"g":3,"x":3.1,"y":725},
{"g":3,"x":2.76,"y":685},{"g":3,"x":2.84,"y":675},{"g":3,"x":2.92,"y":685},{"g":3,"x":3.0,"y":675},{"g":3,"x":3.08,"y":685},{"g":3,"x":3.16,"y":675},{"g":3,"x":3.24,"y":685},
{"g":3,"x":2.72,"y":635},{"g":3,"x":2.8,"y":625},{"g":3,"x":2.88,"y":635},{"g":3,"x":2.96,"y":625},{"g":3,"x":3.04,"y":635},{"g":3,"x":3.12,"y":625},{"g":3,"x":3.2,"y":635},{"g":3,"x":3.28,"y":625},
{"g":3,"x":2.74,"y":595},{"g":3,"x":2.82,"y":585},{"g":3,"x":2.9,"y":595},{"g":3,"x":2.98,"y":585},{"g":3,"x":3.06,"y":595},{"g":3,"x":3.14,"y":585},{"g":3,"x":3.22,"y":595},{"g":3,"x":3.28,"y":585},
{"g":3,"x":2.78,"y":555},{"g":3,"x":2.86,"y":545},{"g":3,"x":2.94,"y":555},{"g":3,"x":3.02,"y":545},{"g":3,"x":3.1,"y":555},{"g":3,"x":3.18,"y":545},
{"g":3,"x":2.9,"y":505},{"g":3,"x":2.98,"y":495},{"g":3,"x":3.06,"y":505},{"g":3,"x":3.12,"y":495},
{"g":3,"x":2.96,"y":450},{"g":3,"x":3.04,"y":445},{"g":3,"x":3.0,"y":380},{"g":3,"x":3.0,"y":330}
],
"vC":[
{"g":1,"y":2766,"lo":0.983,"hi":1.017},{"g":1,"y":2651,"lo":0.978,"hi":1.022},{"g":1,"y":2495,"lo":0.972,"hi":1.028},{"g":1,"y":2390,"lo":0.945,"hi":1.055},{"g":1,"y":2286,"lo":0.917,"hi":1.083},{"g":1,"y":2182,"lo":0.904,"hi":1.096},{"g":1,"y":2026,"lo":0.876,"hi":1.124},{"g":1,"y":1870,"lo":0.835,"hi":1.165},{"g":1,"y":1740,"lo":0.78,"hi":1.22},{"g":1,"y":1636,"lo":0.738,"hi":1.262},{"g":1,"y":1505,"lo":0.725,"hi":1.275},{"g":1,"y":1297,"lo":0.752,"hi":1.248},{"g":1,"y":1089,"lo":0.785,"hi":1.215},{"g":1,"y":933,"lo":0.785,"hi":1.215},{"g":1,"y":776,"lo":0.738,"hi":1.262},{"g":1,"y":672,"lo":0.697,"hi":1.303},{"g":1,"y":516,"lo":0.675,"hi":1.325},{"g":1,"y":359,"lo":0.691,"hi":1.309},{"g":1,"y":203,"lo":0.752,"hi":1.248},{"g":1,"y":99,"lo":0.848,"hi":1.152},{"g":1,"y":0,"lo":0.917,"hi":1.083},
{"g":2,"y":2766,"lo":1.994,"hi":2.006},{"g":2,"y":2599,"lo":1.978,"hi":2.022},{"g":2,"y":2443,"lo":1.959,"hi":2.041},{"g":2,"y":2286,"lo":1.931,"hi":2.069},{"g":2,"y":2130,"lo":1.89,"hi":2.11},{"g":2,"y":1974,"lo":1.848,"hi":2.152},{"g":2,"y":1818,"lo":1.807,"hi":2.193},{"g":2,"y":1714,"lo":1.802,"hi":2.198},{"g":2,"y":1557,"lo":1.835,"hi":2.165},{"g":2,"y":1349,"lo":1.862,"hi":2.138},{"g":2,"y":1141,"lo":1.876,"hi":2.124},{"g":2,"y":984,"lo":1.876,"hi":2.124},{"g":2,"y":828,"lo":1.848,"hi":2.152},{"g":2,"y":724,"lo":1.793,"hi":2.207},{"g":2,"y":620,"lo":1.738,"hi":2.262},{"g":2,"y":490,"lo":1.691,"hi":2.309},{"g":2,"y":411,"lo":1.675,"hi":2.325},{"g":2,"y":307,"lo":1.697,"hi":2.303},{"g":2,"y":203,"lo":1.766,"hi":2.234},{"g":2,"y":99,"lo":1.848,"hi":2.152},{"g":2,"y":0,"lo":1.876,"hi":2.124},
{"g":3,"y":810,"lo":2.983,"hi":3.017},{"g":3,"y":780,"lo":2.89,"hi":3.11},{"g":3,"y":729,"lo":2.807,"hi":3.193},{"g":3,"y":677,"lo":2.697,"hi":3.303},{"g":3,"y":610,"lo":2.67,"hi":3.33},{"g":3,"y":547,"lo":2.725,"hi":3.275},{"g":3,"y":484,"lo":2.862,"hi":3.138},{"g":3,"y":443,"lo":2.97,"hi":3.03},{"g":3,"y":330,"lo":2.989,"hi":3.011}
],
"qC":[
{"g":1,"y":1495,"lo":0.818,"hi":1.19,"k":"q"},{"g":1,"y":901,"lo":0.79,"hi":1.176,"k":"m"},{"g":1,"y":469,"lo":0.68,"hi":1.314,"k":"q"},
{"g":2,"y":1594,"lo":1.865,"hi":2.127,"k":"q"},{"g":2,"y":766,"lo":1.907,"hi":2.127,"k":"m"},{"g":2,"y":396,"lo":1.727,"hi":2.292,"k":"q"},
{"g":3,"y":672,"lo":2.78,"hi":3.19,"k":"q"},{"g":3,"y":599,"lo":2.733,"hi":3.298,"k":"m"},{"g":3,"y":521,"lo":2.8,"hi":3.2,"k":"q"}
],
"bC":[{"x":1,"x2":3,"y":3125,"y2":3125},{"x":1,"x2":1,"y":3125,"y2":2920},{"x":3,"x2":3,"y":3125,"y2":2920}],
"sC":[{"x":2.0,"y":3125,"t":"****"}]
},
"vconcat":[
{"width":403,"height":248,
 "resolve":{"axis":{"x":"independent","y":"independent"}},
 "layer":[
  {"data":{"name":"pA"},"mark":{"type":"circle","size":60,"opacity":0.55},
   "encoding":{
    "x":{"field":"x","type":"quantitative","scale":{"domain":[0.331,3.661],"nice":false,"zero":false},"axis":{"orient":"bottom","values":[1,2,3],"labels":false,"title":null}},
    "y":{"field":"y","type":"quantitative","scale":{"domain":[-930,13490],"nice":false,"zero":false},"axis":{"orient":"left","values":[0,2500,5000,7500,10000,12500],"format":"d","labelExpr":"datum.value % 5000 === 0 ? datum.label : ''","title":"𝙩₀ (s)","titleX":-71,"titleY":124,"titleAngle":270,"titleAlign":"center","titleBaseline":"middle"}},
    "color":{"field":"g","type":"nominal","scale":{"domain":[1,2,3],"range":["#ff3030","#b4b4b4","#9a3fae"]},"legend":null}}},
  {"data":{"name":"vA"},"mark":{"type":"area","orient":"horizontal","interpolate":"catmull-rom","fillOpacity":0,"strokeWidth":2.2},
   "encoding":{
    "y":{"field":"y","type":"quantitative","scale":{"domain":[-930,13490],"nice":false,"zero":false},"axis":{"orient":"right","values":[0,2500,5000,7500,10000,12500],"labels":false,"title":null}},
    "x":{"field":"lo","type":"quantitative","scale":{"domain":[0.331,3.661],"nice":false,"zero":false},"axis":{"orient":"top","values":[1,2,3],"title":null,"labelFontSize":16.5,"labelPadding":10,"labelExpr":"datum.value == 1 ? 'Parental strain (PS)' : datum.value == 2 ? 'ΔtolC' : 'PS+polymyxinB'","labelFontStyle":{"condition":{"test":"datum.value == 2","value":"italic"},"value":"normal"}}},
    "x2":{"field":"hi"},
    "stroke":{"field":"g","type":"nominal","scale":{"domain":[1,2,3],"range":["#ff0000","#b4b4b4","#800080"]},"legend":null}}},
  {"data":{"name":"qA"},"transform":[{"filter":"datum.k == 'q'"}],"mark":{"type":"rule","color":"#1a1aff","strokeWidth":3.2,"strokeDash":[0.1,7],"strokeCap":"round"},
   "encoding":{"x":{"field":"lo","type":"quantitative","axis":null},"x2":{"field":"hi"},"y":{"field":"y","type":"quantitative","axis":null}}},
  {"data":{"name":"qA"},"transform":[{"filter":"datum.k == 'm'"}],"mark":{"type":"rule","color":"#e8191e","strokeWidth":2.5,"strokeDash":[7,3]},
   "encoding":{"x":{"field":"lo","type":"quantitative","axis":null},"x2":{"field":"hi"},"y":{"field":"y","type":"quantitative","axis":null}}},
  {"data":{"name":"bA"},"mark":{"type":"rule","color":"black","strokeWidth":2},
   "encoding":{"x":{"field":"x","type":"quantitative","axis":null},"x2":{"field":"x2"},"y":{"field":"y","type":"quantitative","axis":null},"y2":{"field":"y2"}}},
  {"data":{"name":"sA"},"mark":{"type":"text","font":"Liberation Sans","fontWeight":"bold","fontSize":20,"baseline":"alphabetic","dy":5,"color":"black"},
   "encoding":{"x":{"field":"x","type":"quantitative","axis":null},"y":{"field":"y","type":"quantitative","axis":null},"text":{"field":"t"}}},
  {"data":{"values":[{"x":0.482,"y":11512,"t":"A"}]},"mark":{"type":"text","font":"Liberation Sans","fontWeight":"bold","fontSize":24,"baseline":"alphabetic","color":"black"},
   "encoding":{"x":{"field":"x","type":"quantitative","axis":null},"y":{"field":"y","type":"quantitative","axis":null},"text":{"field":"t"}}}
 ]},
{"width":403,"height":248,
 "resolve":{"axis":{"x":"independent","y":"independent"}},
 "layer":[
  {"data":{"name":"pB"},"mark":{"type":"circle","size":60,"opacity":0.55},
   "encoding":{
    "x":{"field":"x","type":"quantitative","scale":{"domain":[0.331,3.661],"nice":false,"zero":false},"axis":{"orient":"bottom","values":[1,2,3],"labels":false,"title":null}},
    "y":{"field":"y","type":"quantitative","scale":{"type":"log","domain":[0.0306,395],"nice":false},"axis":{"orient":"left","values":[0.055,0.1,0.55,1,5.5,10,55,100],"format":"~g","labelExpr":"indexof([0.1,1,10,100], datum.value) >= 0 ? datum.label : ''","title":"𝙠₁ (a.u. s⁻²)","titleX":-71,"titleY":124,"titleAngle":270,"titleAlign":"center","titleBaseline":"middle"}},
    "color":{"field":"g","type":"nominal","scale":{"domain":[1,2,3],"range":["#ff3030","#b4b4b4","#9a3fae"]},"legend":null}}},
  {"data":{"name":"vB"},"mark":{"type":"area","orient":"horizontal","interpolate":"catmull-rom","fillOpacity":0,"strokeWidth":2.2},
   "encoding":{
    "y":{"field":"y","type":"quantitative","scale":{"type":"log","domain":[0.0306,395],"nice":false},"axis":{"orient":"right","values":[0.055,0.1,0.55,1,5.5,10,55,100],"labels":false,"title":null}},
    "x":{"field":"lo","type":"quantitative","scale":{"domain":[0.331,3.661],"nice":false,"zero":false},"axis":{"orient":"top","values":[1,2,3],"labels":false,"title":null}},
    "x2":{"field":"hi"},
    "stroke":{"field":"g","type":"nominal","scale":{"domain":[1,2,3],"range":["#ff0000","#b4b4b4","#800080"]},"legend":null}}},
  {"data":{"name":"qB"},"transform":[{"filter":"datum.k == 'q'"}],"mark":{"type":"rule","color":"#1a1aff","strokeWidth":3.2,"strokeDash":[0.1,7],"strokeCap":"round"},
   "encoding":{"x":{"field":"lo","type":"quantitative","axis":null},"x2":{"field":"hi"},"y":{"field":"y","type":"quantitative","scale":{"type":"log","domain":[0.0306,395],"nice":false},"axis":null}}},
  {"data":{"name":"qB"},"transform":[{"filter":"datum.k == 'm'"}],"mark":{"type":"rule","color":"#e8191e","strokeWidth":2.5,"strokeDash":[7,3]},
   "encoding":{"x":{"field":"lo","type":"quantitative","axis":null},"x2":{"field":"hi"},"y":{"field":"y","type":"quantitative","scale":{"type":"log","domain":[0.0306,395],"nice":false},"axis":null}}},
  {"data":{"name":"bB"},"mark":{"type":"rule","color":"black","strokeWidth":2},
   "encoding":{"x":{"field":"x","type":"quantitative","axis":null},"x2":{"field":"x2"},"y":{"field":"y","type":"quantitative","scale":{"type":"log","domain":[0.0306,395],"nice":false},"axis":null},"y2":{"field":"y2"}}},
  {"data":{"name":"sB"},"mark":{"type":"text","font":"Liberation Sans","fontWeight":"bold","fontSize":20,"baseline":"alphabetic","dy":5,"color":"black"},
   "encoding":{"x":{"field":"x","type":"quantitative","axis":null},"y":{"field":"y","type":"quantitative","scale":{"type":"log","domain":[0.0306,395],"nice":false},"axis":null},"text":{"field":"t"}}},
  {"data":{"values":[{"x":0.482,"y":138,"t":"B"}]},"mark":{"type":"text","font":"Liberation Sans","fontWeight":"bold","fontSize":24,"baseline":"alphabetic","color":"black"},
   "encoding":{"x":{"field":"x","type":"quantitative","axis":null},"y":{"field":"y","type":"quantitative","scale":{"type":"log","domain":[0.0306,395],"nice":false},"axis":null},"text":{"field":"t"}}}
 ]},
{"width":403,"height":249,
 "resolve":{"axis":{"x":"independent","y":"independent"}},
 "layer":[
  {"data":{"name":"pC"},"mark":{"type":"circle","size":60,"opacity":0.55},
   "encoding":{
    "x":{"field":"x","type":"quantitative","scale":{"domain":[0.331,3.661],"nice":false,"zero":false},"axis":{"orient":"bottom","values":[1,2,3],"title":null,"labelFontSize":16.5,"labelPadding":7,"labelExpr":"datum.value == 1 ? 'Parental strain (PS)' : datum.value == 2 ? 'ΔtolC' : 'PS+polymyxinB'","labelFontStyle":{"condition":{"test":"datum.value == 2","value":"italic"},"value":"normal"}}},
    "y":{"field":"y","type":"quantitative","scale":{"domain":[-297,3594],"nice":false,"zero":false},"axis":{"orient":"left","values":[0,500,1000,1500,2000,2500,3000,3500],"format":"d","labelExpr":"datum.value % 1000 === 0 ? datum.label : ''","title":"𝙁ₘₐₓ (a.u.)","titleX":-71,"titleY":124,"titleAngle":270,"titleAlign":"center","titleBaseline":"middle"}},
    "color":{"field":"g","type":"nominal","scale":{"domain":[1,2,3],"range":["#ff3030","#b4b4b4","#9a3fae"]},"legend":null}}},
  {"data":{"name":"vC"},"mark":{"type":"area","orient":"horizontal","interpolate":"catmull-rom","fillOpacity":0,"strokeWidth":2.2},
   "encoding":{
    "y":{"field":"y","type":"quantitative","scale":{"domain":[-297,3594],"nice":false,"zero":false},"axis":{"orient":"right","values":[0,500,1000,1500,2000,2500,3000,3500],"labels":false,"title":null}},
    "x":{"field":"lo","type":"quantitative","scale":{"domain":[0.331,3.661],"nice":false,"zero":false},"axis":{"orient":"top","values":[1,2,3],"labels":false,"title":null}},
    "x2":{"field":"hi"},
    "stroke":{"field":"g","type":"nominal","scale":{"domain":[1,2,3],"range":["#ff0000","#b4b4b4","#800080"]},"legend":null}}},
  {"data":{"name":"qC"},"transform":[{"filter":"datum.k == 'q'"}],"mark":{"type":"rule","color":"#1a1aff","strokeWidth":3.2,"strokeDash":[0.1,7],"strokeCap":"round"},
   "encoding":{"x":{"field":"lo","type":"quantitative","axis":null},"x2":{"field":"hi"},"y":{"field":"y","type":"quantitative","axis":null}}},
  {"data":{"name":"qC"},"transform":[{"filter":"datum.k == 'm'"}],"mark":{"type":"rule","color":"#e8191e","strokeWidth":2.5,"strokeDash":[7,3]},
   "encoding":{"x":{"field":"lo","type":"quantitative","axis":null},"x2":{"field":"hi"},"y":{"field":"y","type":"quantitative","axis":null}}},
  {"data":{"name":"bC"},"mark":{"type":"rule","color":"black","strokeWidth":2},
   "encoding":{"x":{"field":"x","type":"quantitative","axis":null},"x2":{"field":"x2"},"y":{"field":"y","type":"quantitative","axis":null},"y2":{"field":"y2"}}},
  {"data":{"name":"sC"},"mark":{"type":"text","font":"Liberation Sans","fontWeight":"bold","fontSize":20,"baseline":"alphabetic","dy":5,"color":"black"},
   "encoding":{"x":{"field":"x","type":"quantitative","axis":null},"y":{"field":"y","type":"quantitative","axis":null},"text":{"field":"t"}}},
  {"data":{"values":[{"x":0.482,"y":3125,"t":"C"}]},"mark":{"type":"text","font":"Liberation Sans","fontWeight":"bold","fontSize":24,"baseline":"alphabetic","color":"black"},
   "encoding":{"x":{"field":"x","type":"quantitative","axis":null},"y":{"field":"y","type":"quantitative","axis":null},"text":{"field":"t"}}}
 ]}
]
}
